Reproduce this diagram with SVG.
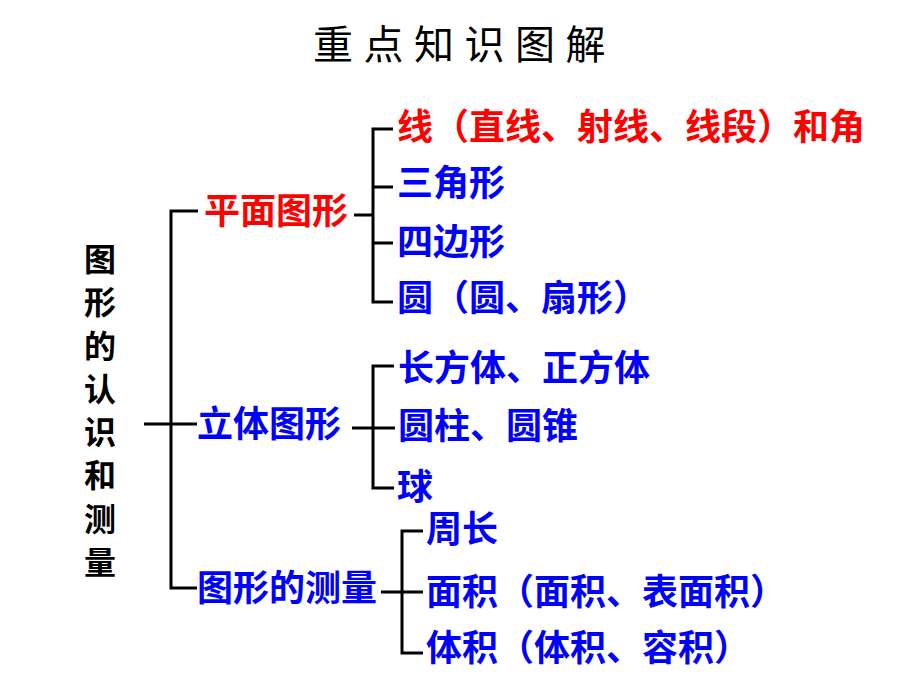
<svg xmlns="http://www.w3.org/2000/svg" width="920" height="690" viewBox="0 0 920 690">
<style>
text{font-family:"Noto Sans CJK SC","Noto Sans",sans-serif;dominant-baseline:central}
.b{font-weight:bold;font-size:36px}
.red{fill:#ff0000}
.blue{fill:#0000ff}
.side{font-weight:bold;font-size:32px;fill:#000;text-anchor:middle}
.title{font-size:40px;fill:#000;letter-spacing:10.5px}
#connectors path{fill:none;stroke:#000;stroke-width:3}
</style>
<rect width="920" height="690" fill="#fff"/>
<text class="title" x="313" y="42">重点知识图解</text>
<g id="root">
<text class="side" x="100" y="257">图</text>
<text class="side" x="100" y="300">形</text>
<text class="side" x="100" y="344">的</text>
<text class="side" x="100" y="387">认</text>
<text class="side" x="100" y="430">识</text>
<text class="side" x="100" y="473">和</text>
<text class="side" x="100" y="517">测</text>
<text class="side" x="100" y="560">量</text>
</g>
<g id="connectors">
<path d="M144 424H197M198 211H171V588H197"/>
<path d="M354 215H373M393 129H373V302H393M373 187H393M373 243H393"/>
<path d="M352 428H395M394 366H373V488H394"/>
<path d="M381 592H423M423 531H402V653H423"/>
</g>
<g id="plane"><text class="b red" x="204" y="208">平面图形</text></g>
<g id="solid"><text class="b blue" x="197" y="421">立体图形</text></g>
<g id="measure"><text class="b blue" x="197" y="585">图形的测量</text></g>
<g id="line"><text class="b red" x="397" y="124">线（直线、射线、线段）和角</text></g>
<g id="triangle"><text class="b blue" x="397" y="180">三角形</text></g>
<g id="quad"><text class="b blue" x="397" y="239">四边形</text></g>
<g id="circle"><text class="b blue" x="397" y="295">圆（圆、扇形）</text></g>
<g id="cuboid"><text class="b blue" x="398" y="365">长方体、正方体</text></g>
<g id="cylinder"><text class="b blue" x="398" y="423">圆柱、圆锥</text></g>
<g id="sphere"><text class="b blue" x="397" y="484">球</text></g>
<g id="perimeter"><text class="b blue" x="426" y="526">周长</text></g>
<g id="area"><text class="b blue" x="426" y="589">面积（面积、表面积）</text></g>
<g id="volume"><text class="b blue" x="426" y="645">体积（体积、容积）</text></g>
</svg>
